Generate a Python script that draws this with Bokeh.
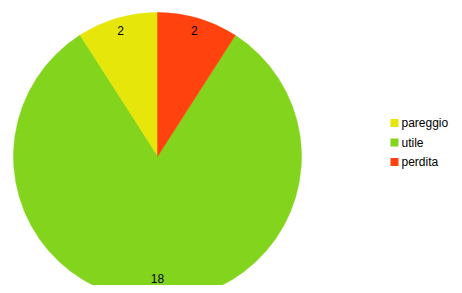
import math
from bokeh.plotting import figure
from bokeh.models import Range1d, ColumnDataSource
from bokeh.core.properties import value
from bokeh.embed import file_html
from bokeh.resources import INLINE

categories = ["pareggio", "utile", "perdita"]
counts = [2, 18, 2]
colors = ["#E6E60A", "#83D41C", "#FF420E"]

W, H = 454, 285
p = figure(width=W, height=H, output_backend="svg", toolbar_location=None,
           x_range=Range1d(0, W), y_range=Range1d(0, H), min_border=0)
p.axis.visible = False
p.grid.visible = False
p.outline_line_color = None
p.background_fill_color = "white"

cx, cy, r = 157, 285 - 156, 144
total = sum(counts)
starts, ends, lx, ly, labels = [], [], [], [], []
a = math.pi / 2
for c in counts:
    span = 2 * math.pi * c / total
    starts.append(a)
    ends.append(a + span)
    mid = a + span / 2
    lx.append(cx + 131 * math.cos(mid))
    ly.append(max(cy + 131 * math.sin(mid), 7))
    labels.append(str(c))
    a += span

src = ColumnDataSource(dict(start=starts, end=ends, color=colors, cat=categories))
p.wedge(x=cx, y=cy, radius=r, start_angle="start", end_angle="end",
        fill_color="color", line_color="color", line_width=0.5, source=src)

p.text(x=lx, y=ly, text=labels, text_font=value("Liberation Sans"),
       text_font_size="12px", text_align="center", text_baseline="middle",
       text_color="#000000")

# legend (manual)
leg_y = [285 - 122.5, 285 - 142, 285 - 161.5]
p.rect(x=[394] * 3, y=leg_y, width=8, height=8, fill_color=colors,
       line_color=None)
p.text(x=[401] * 3, y=leg_y, text=categories, text_font=value("Liberation Sans"),
       text_font_size="12px", text_align="left", text_baseline="middle",
       text_color="#000000")

open("out.html", "w").write(file_html(p, INLINE))
